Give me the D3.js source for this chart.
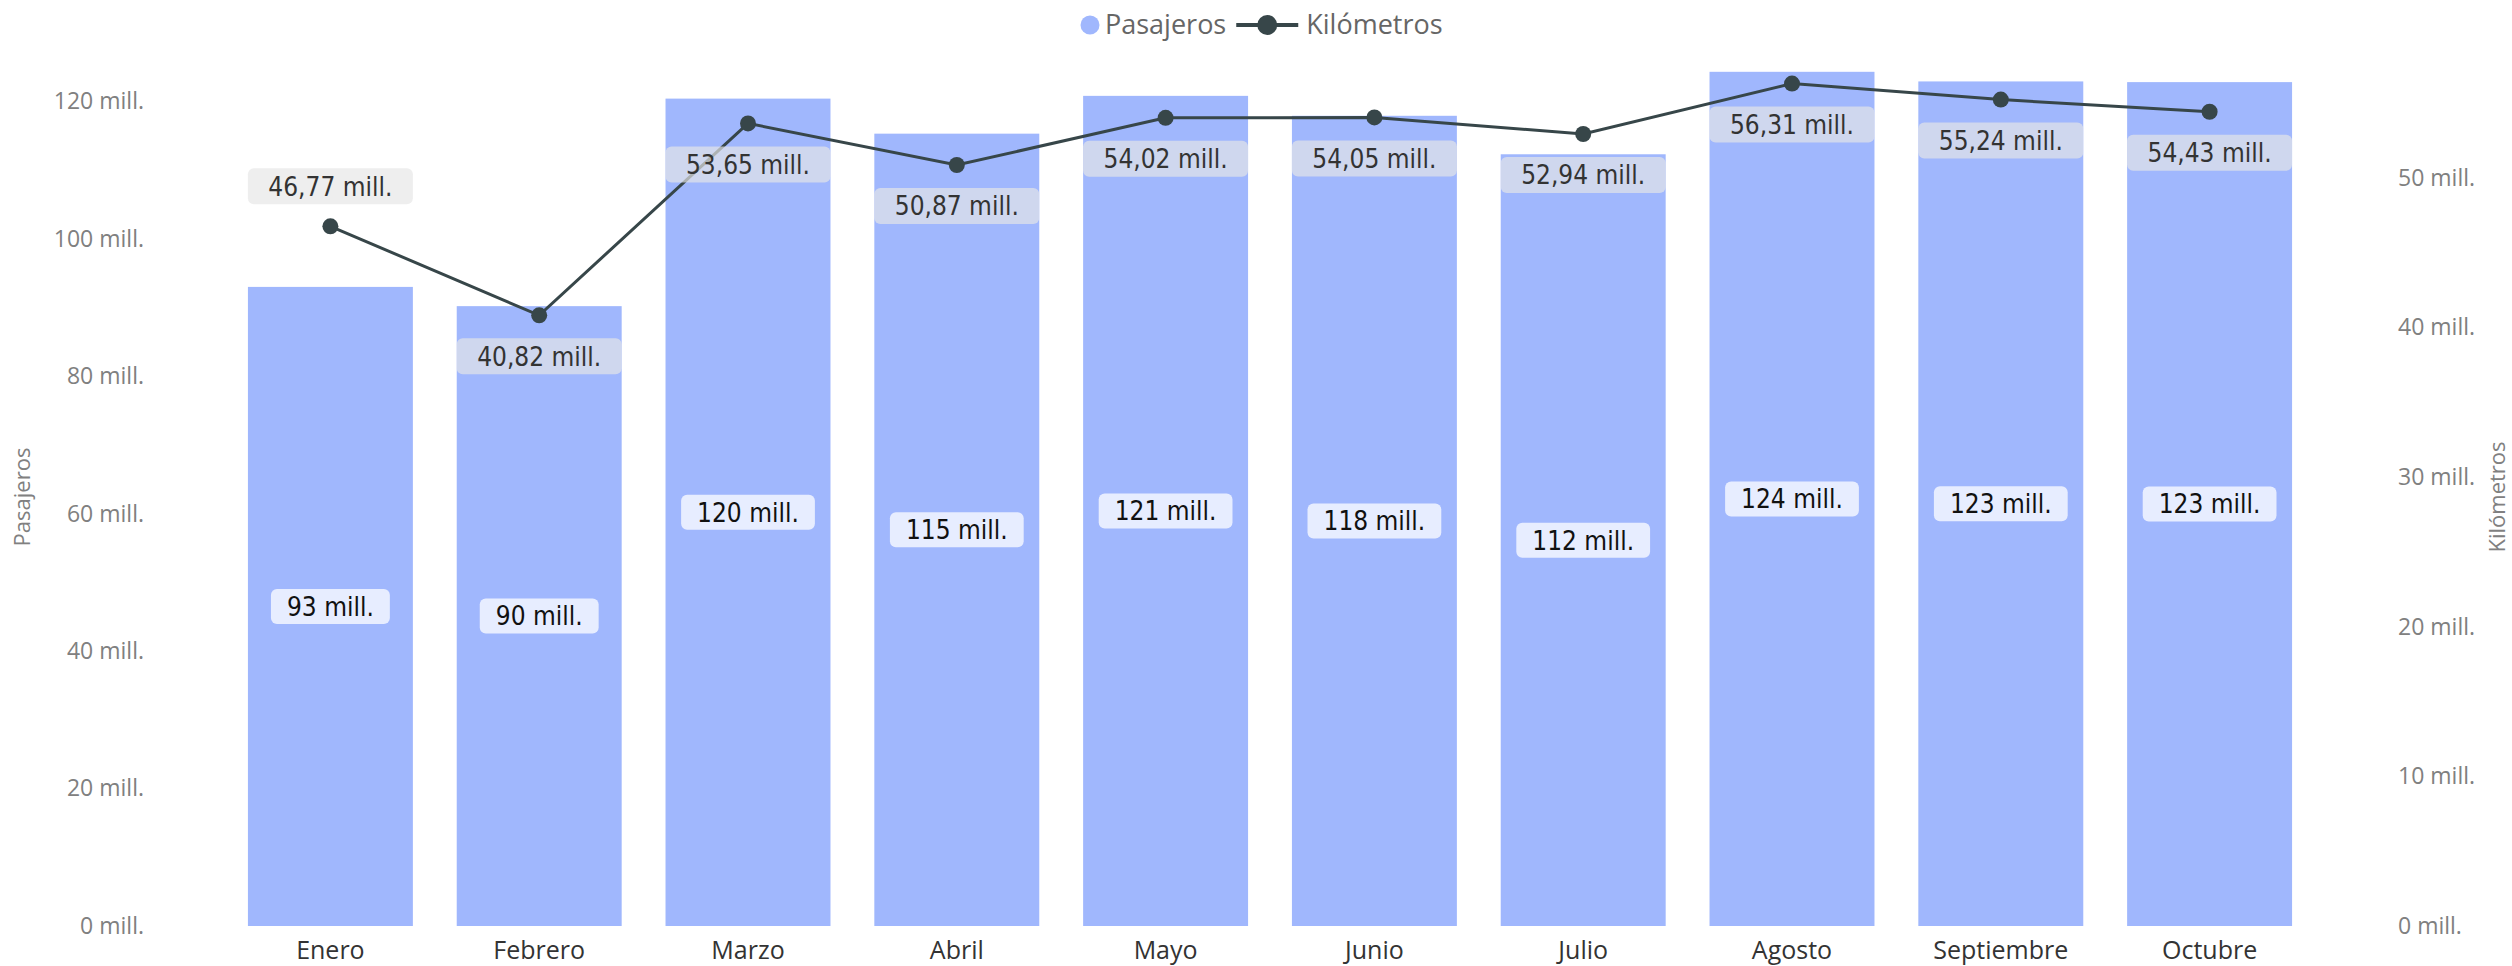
<!DOCTYPE html>
<html>
<head>
<meta charset="utf-8">
<script src="https://cdn.jsdelivr.net/npm/d3@7"></script>
<style>
  body { margin: 0; background: #fff; }
  svg { display: block; }
</style>
</head>
<body>
<svg></svg>
<script>
var months = ["Enero", "Febrero", "Marzo", "Abril", "Mayo", "Junio", "Julio", "Agosto", "Septiembre", "Octubre"];
// millones de pasajeros
var pasajeros = [93.0, 90.2, 120.4, 115.3, 120.8, 117.9, 112.3, 124.3, 122.9, 122.8];
// millones de kilómetros
var kilometros = [46.77, 40.82, 53.65, 50.87, 54.02, 54.05, 52.94, 56.31, 55.24, 54.43];
var leftTicks = [0, 20, 40, 60, 80, 100, 120];
var rightTicks = [0, 10, 20, 30, 40, 50];
// where the km label sits relative to its point
var kmLabelSide = ["top", "bottom", "bottom", "bottom", "bottom", "bottom", "bottom", "bottom", "bottom", "bottom"];

var width = 2512;
var height = 966;
var barColor = "#a0b7fd";
var lineColor = "#374649";
var uiFont = "'Segoe UI', 'Open Sans', sans-serif";
var labelFont = "'DejaVu Sans Condensed', 'DejaVu Sans', sans-serif";

var svg = d3.select("svg")
    .attr("width", width)
    .attr("height", height);

var x = d3.scaleBand()
    .domain(months)
    .range([226, 2314])
    .paddingInner(0.21)
    .paddingOuter(0.105);

var yLeft = d3.scaleLinear().domain([0, 125]).range([926, 67]);
var yRight = d3.scaleLinear().domain([0, 57.42]).range([926, 67]);

// axes
var axisL = svg.append("g")
    .attr("transform", "translate(144,0)")
    .call(d3.axisLeft(yLeft).tickValues(leftTicks).tickSize(0).tickPadding(0)
      .tickFormat(d => d + " mill."));

var axisR = svg.append("g")
    .attr("transform", "translate(2398,0)")
    .call(d3.axisRight(yRight).tickValues(rightTicks).tickSize(0).tickPadding(0)
      .tickFormat(d => d + " mill."));

[axisL, axisR].forEach(a => {
  a.select(".domain").remove();
  a.selectAll("text")
      .attr("font-family", uiFont)
      .attr("font-size", 23)
      .attr("fill", "#808080");
});

var axisB = svg.append("g")
    .attr("transform", "translate(0,926)")
    .call(d3.axisBottom(x).tickSize(0).tickPadding(15));
axisB.select(".domain").remove();
axisB.selectAll("text")
    .attr("font-family", uiFont)
    .attr("font-size", 25)
    .attr("fill", "#333");

// axis titles
svg.append("text")
    .attr("transform", "translate(22,497) rotate(-90)")
    .attr("text-anchor", "middle")
    .attr("dy", "0.35em")
    .attr("font-family", uiFont)
    .attr("font-size", 22)
    .attr("fill", "#808080")
    .text("Pasajeros");

svg.append("text")
    .attr("transform", "translate(2497,497) rotate(-90)")
    .attr("text-anchor", "middle")
    .attr("dy", "0.35em")
    .attr("font-family", uiFont)
    .attr("font-size", 22)
    .attr("fill", "#808080")
    .text("Kilómetros");

// bars
var data = months.map((m, i) => ({ month: m, pas: pasajeros[i], km: kilometros[i], side: kmLabelSide[i] }));

svg.append("g")
  .selectAll("rect")
  .data(data)
  .join("rect")
    .attr("x", d => x(d.month))
    .attr("y", d => yLeft(d.pas))
    .attr("width", x.bandwidth())
    .attr("height", d => yLeft(0) - yLeft(d.pas))
    .attr("fill", barColor);

// line
svg.append("path")
    .datum(data)
    .attr("fill", "none")
    .attr("stroke", lineColor)
    .attr("stroke-width", 3)
    .attr("d", d3.line()
        .x(d => x(d.month) + x.bandwidth() / 2)
        .y(d => yRight(d.km)));

svg.append("g")
  .selectAll("circle")
  .data(data)
  .join("circle")
    .attr("cx", d => x(d.month) + x.bandwidth() / 2)
    .attr("cy", d => yRight(d.km))
    .attr("r", 8)
    .attr("fill", lineColor);

// bar labels
var barLab = svg.append("g")
  .selectAll("g")
  .data(data)
  .join("g")
    .attr("transform", d => `translate(${x(d.month) + x.bandwidth() / 2},${(yLeft(d.pas) + yLeft(0)) / 2})`);

barLab.append("text")
    .attr("text-anchor", "middle")
    .attr("dy", "0.36em")
    .attr("font-family", labelFont)
    .attr("font-size", 26)
    .attr("fill", "#111")
    .text(d => Math.round(d.pas) + " mill.");

barLab.each(function() {
  var g = d3.select(this);
  var w = g.select("text").node().getComputedTextLength() + 32;
  g.insert("rect", "text")
      .attr("x", -w / 2)
      .attr("y", -17.5)
      .attr("width", w)
      .attr("height", 35)
      .attr("rx", 6)
      .attr("fill", "#fff")
      .attr("fill-opacity", 0.75);
});

// km labels
var kmLab = svg.append("g")
  .selectAll("g")
  .data(data)
  .join("g")
    .attr("transform", d => {
      var cy = yRight(d.km);
      var off = d.side === "top" ? -40 : 41;
      return `translate(${x(d.month) + x.bandwidth() / 2},${cy + off})`;
    });

kmLab.append("rect")
    .attr("x", -x.bandwidth() / 2)
    .attr("y", -18)
    .attr("width", x.bandwidth())
    .attr("height", 36)
    .attr("rx", 6)
    .attr("fill", "rgb(230,230,230)")
    .attr("fill-opacity", 0.68);

kmLab.append("text")
    .attr("text-anchor", "middle")
    .attr("dy", "0.36em")
    .attr("font-family", labelFont)
    .attr("font-size", 26)
    .attr("fill", "#333")
    .text(d => d.km.toFixed(2).replace(".", ",") + " mill.");

// legend
var legend = svg.append("g").attr("font-family", uiFont).attr("font-size", 27).attr("fill", "#666");
legend.append("circle").attr("cx", 1090).attr("cy", 25).attr("r", 9.5).attr("fill", barColor);
var t1 = legend.append("text").attr("x", 1105).attr("y", 25).attr("dy", "0.35em").text("Pasajeros");
var lx = 1105 + t1.node().getComputedTextLength() + 10;
legend.append("line").attr("x1", lx).attr("x2", lx + 62).attr("y1", 25).attr("y2", 25)
    .attr("stroke", lineColor).attr("stroke-width", 4);
legend.append("circle").attr("cx", lx + 31).attr("cy", 25).attr("r", 10).attr("fill", lineColor);
legend.append("text").attr("x", lx + 70).attr("y", 25).attr("dy", "0.35em").text("Kilómetros");
</script>
</body>
</html>
